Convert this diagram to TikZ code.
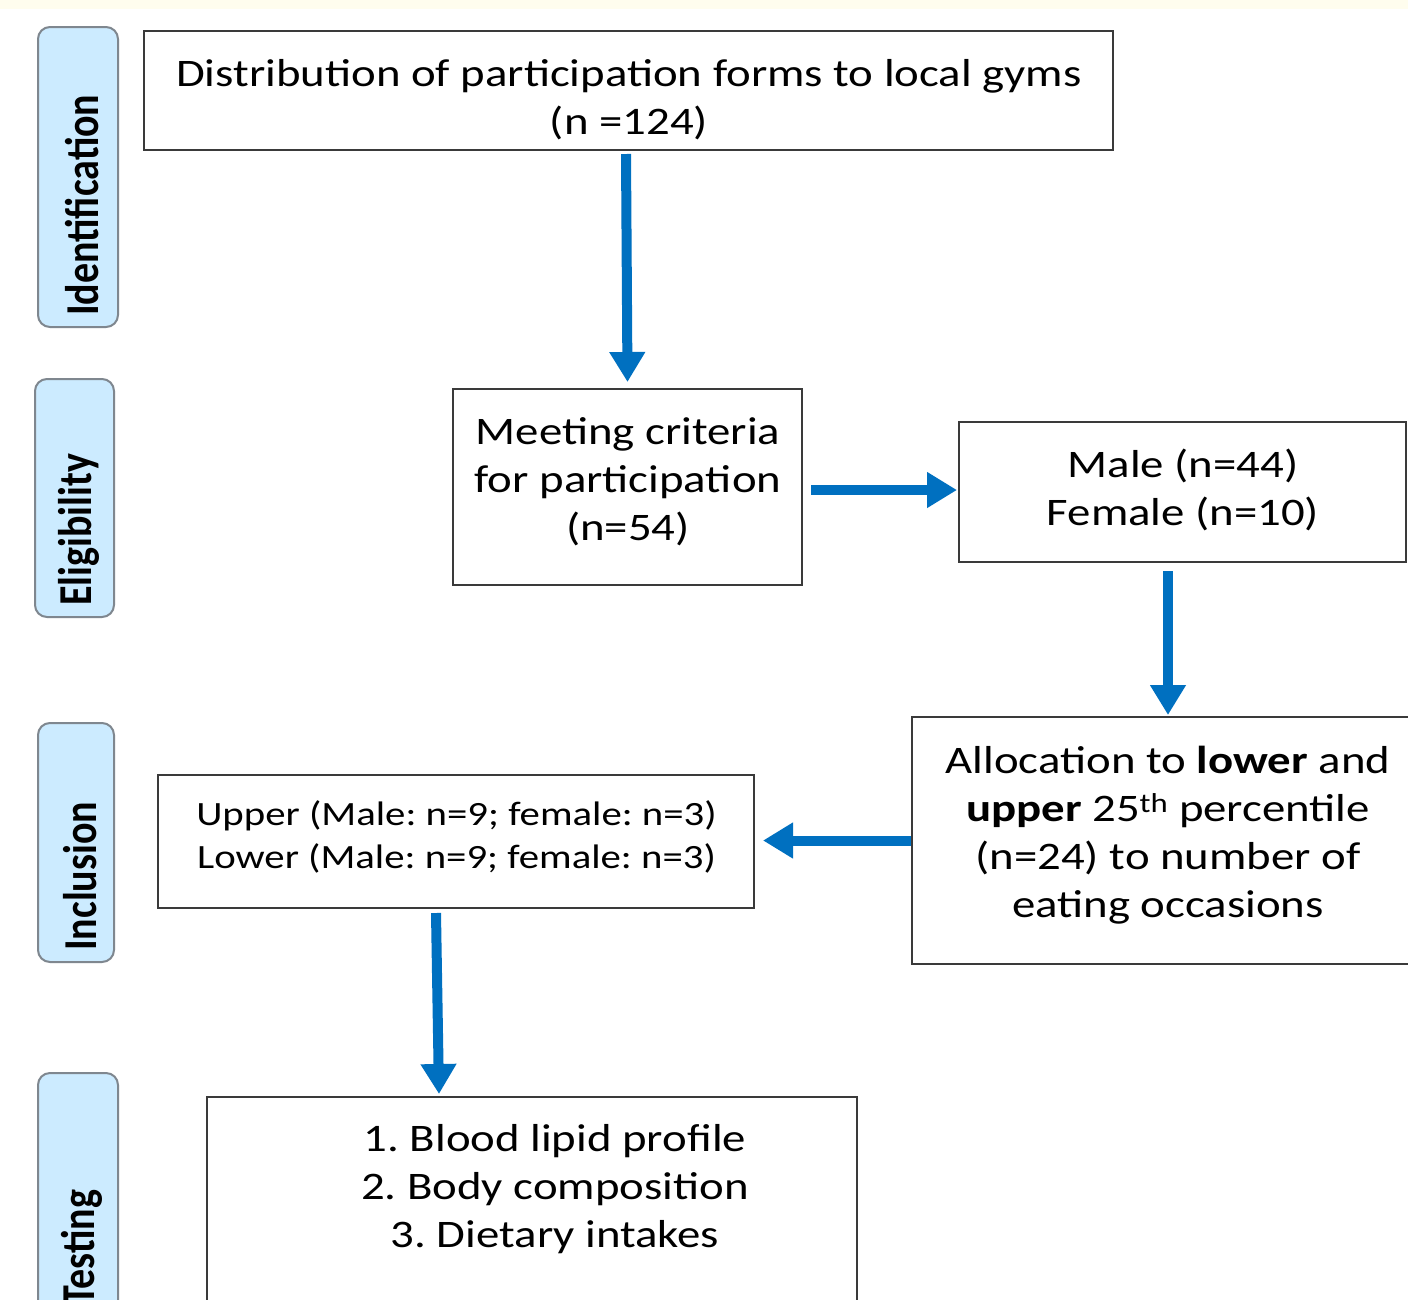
\documentclass[tikz,border=0pt]{standalone}
\usepackage{fontspec}
\setmainfont{Carlito}[FakeStretch=1.2]
\newfontfamily\sidefont{Carlito}
\usetikzlibrary{arrows.meta,calc}
\definecolor{arrblue}{HTML}{0070C0}
\definecolor{sidefill}{HTML}{CCEBFF}
\definecolor{sideborder}{HTML}{7F878F}
\definecolor{topband}{HTML}{FFFDEE}
\definecolor{boxline}{HTML}{3A3A3A}
\frenchspacing
\begin{document}
\begin{tikzpicture}[x=1pt,y=-1pt,
  box/.style={draw=boxline,line width=2pt,fill=white,inner sep=0pt},
  txt/.style={inner sep=0pt,align=center,font=\fontsize{39}{48}\selectfont},
  smalltxt/.style={inner sep=0pt,align=center,font=\fontsize{34}{43}\selectfont},
  side/.style={draw=sideborder,line width=2pt,fill=sidefill,rounded corners=12pt,inner sep=0pt},
  sidetext/.style={rotate=90,anchor=west,inner sep=0pt,font=\sidefont\bfseries\fontsize{40}{48}\selectfont},
  arr/.style={draw=arrblue,line width=10pt,-{Triangle[width=34pt,length=30pt]}}]
\useasboundingbox (0,0) rectangle (1408,1299);
\clip (0,0) rectangle (1408,1299);
\fill[white] (0,0) rectangle (1408,1299);
\fill[topband] (0,0) rectangle (1408,9);

% side labels
\node[side,minimum width=80,minimum height=300] (s1) at (78,177) {};
\node[side,minimum width=79,minimum height=238] (s2) at (74.5,498) {};
\node[side,minimum width=76,minimum height=239] (s3) at (76,842.5) {};
\node[side,minimum width=80,minimum height=244] (s4) at (78,1195) {};
\node[sidetext] (l1) at ($(s1.south)+(4,-12)$) {\scalebox{1}[1.18]{Identification}};
\node[sidetext] (l2) at ($(s2.south)+(4,-12)$) {\scalebox{1}[1.18]{Eligibility}};
\node[sidetext] (l3) at ($(s3.south)+(4,-12)$) {\scalebox{1}[1.18]{Inclusion}};
\node[sidetext] (l4) at ($(s4.south)+(4,-12)$) {\scalebox{1}[1.18]{Testing}};

% boxes
\node[box,minimum width=969,minimum height=119] (b1) at (628.5,90.5) {};
\node[box,minimum width=349,minimum height=196] (b2) at (627.5,487) {};
\node[box,minimum width=447,minimum height=140] (b3) at (1182.5,492) {};
\node[box,minimum width=512,minimum height=247] (b4) at (1168,840.5) {};
\node[box,minimum width=596,minimum height=133] (b5) at (456,841.5) {};
\node[box,minimum width=650,minimum height=233] (b6) at (532,1213.5) {};

% texts
\node[txt] (t1) at (629,100) {Distribution of participation forms to local gyms\\(n =124)};
\node[txt] (t2) at (628,482) {Meeting criteria\\for participation\\(n=54)};
\node[txt] (t3) at (1183,490) {Male (n=44)\\Female (n=10)};
\node[txt] (t4) at (1168,835) {Allocation to \textbf{lower} and\\\textbf{upper} 25\textsuperscript{th} percentile\\(n=24) to number of\\eating occasions};
\node[smalltxt] (t5) at (456.5,836.5) {Upper (Male: n=9; female: n=3)\\Lower (Male: n=9; female: n=3)};
\node[txt] (t6) at (555,1189) {1. Blood lipid profile\\2. Body composition\\3. Dietary intakes};

% arrows
\draw[arr] ($(b1.south)+(-2.5,3)$) -- ($(b2.north)+(0,-6)$);
\draw[arr] ($(b2.east)+(8,3)$) -- ($(b3.west)+(-1,-2)$);
\draw[arr] ($(b4.north |- b3.south)+(0,8)$) -- ($(b4.north)+(0,-1)$);
\draw[arr] (b4.west) -- ($(b5.east)+(8,-1)$);
\draw[arr] ($(b5.south)+(-20,4)$) -- ($(b6.north)+(-93,-2)$);
\end{tikzpicture}
\end{document}
